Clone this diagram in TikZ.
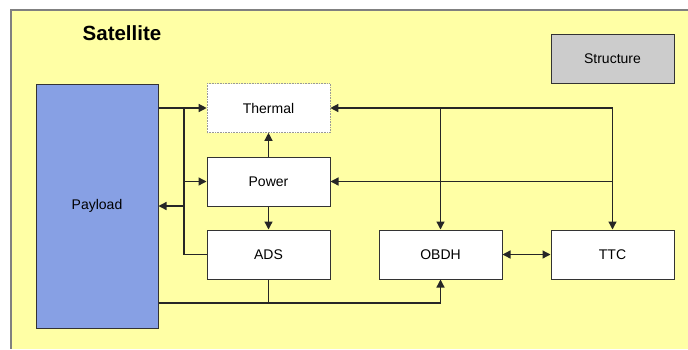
\documentclass[tikz,border=0pt]{standalone}
\usepackage{fontspec}
\setmainfont{Liberation Sans}
\usetikzlibrary{arrows.meta}

\definecolor{bgyellow}{RGB}{255,255,165}
\definecolor{loadblue}{RGB}{135,160,228}

\tikzset{
  block/.style={draw=black!80, line width=1pt, fill=white, minimum width=123pt,
    minimum height=49pt, inner sep=0pt, font=\fontsize{14}{16}\selectfont},
  link/.style={draw=black!85, line width=1.3pt},
  tip/.style={-{Triangle[length=8pt,width=8pt]}},
  twotip/.style={{Triangle[length=8pt,width=8pt]}-{Triangle[length=8pt,width=8pt]}},
}

\begin{document}
\begin{tikzpicture}[x=1pt,y=-1pt]
\useasboundingbox (0,0) rectangle (688,349);
% yellow satellite frame
\fill[bgyellow] (11,10) rectangle (688,349);
\draw[black!50, line width=2pt] (688,10) -- (11,10) -- (11,349);

\node[font=\bfseries\fontsize{20.5}{24}\selectfont] (title) at (122,33) {Satellite};

% subsystems
\node[block, minimum width=122pt, minimum height=244pt, fill=loadblue] (payload) at (97,206) {Payload};
\node[block, draw=black!40, line width=0.6pt, densely dotted] (thermal) at (268.5,108) {Thermal};
\node[block] (power) at (268.5,181.5) {Power};
\node[block] (ads) at (268.5,254.5) {ADS};
\node[block] (obdh) at (440.5,254.5) {OBDH};
\node[block] (ttc) at (612.5,254.5) {TTC};
\node[block, fill=black!20] (structure) at (612.5,58.5) {Structure};

\coordinate (bus) at (184,0);
\coordinate (low) at (0,303);

% payload side
\draw[link,tip] (payload.east |- thermal.west) -- (thermal.west);
\draw[link] (bus |- thermal.west) -- (bus |- ads.west) -- (ads.west);
\draw[link,tip] (bus |- power.west) -- (power.west);
\draw[link,tip] (bus |- payload.east) -- (payload.east);
\draw[link,tip] (power.north) -- (thermal.south);
\draw[link,tip] (power.south) -- (ads.north);
\draw[link,tip] (payload.east |- low) -- (obdh.south |- low) -- (obdh.south);
\draw[link] (ads.south) -- (ads.south |- low);

% obdh and ttc side
\draw[link,tip] (ttc.north |- thermal.east) -- (thermal.east);
\draw[link,tip] (obdh.north |- thermal.east) -- (obdh.north);
\draw[link,tip] (ttc.north |- thermal.east) -- (ttc.north);
\draw[link,tip] (ttc.north |- power.east) -- (power.east);
\draw[link,twotip] (obdh.east) -- (ttc.west);
\end{tikzpicture}
\end{document}
